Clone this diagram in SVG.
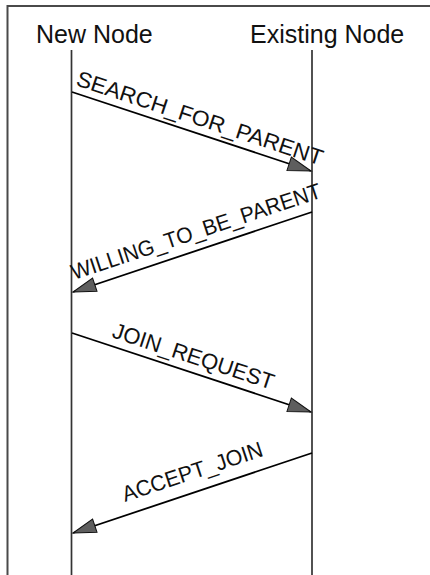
<svg xmlns="http://www.w3.org/2000/svg" width="430" height="575" viewBox="0 0 430 575">
  <style>
    .frame { fill: none; stroke: #4a4a4a; stroke-width: 2; }
    .life { stroke: #333; stroke-width: 1.7; }
    .msg { stroke: #000; stroke-width: 1.8; fill: none; }
    .title { font-family: "Liberation Sans", Arial, sans-serif; font-size: 25px; fill: #111; }
    .label { font-family: "Liberation Sans", Arial, sans-serif; font-size: 22px; fill: #111; }
  </style>
  <defs>
    <marker id="head" markerUnits="userSpaceOnUse" markerWidth="30" markerHeight="20" viewBox="-24 -10 26 20" refX="0" refY="0" orient="auto">
      <path d="M0,0 L-23,-7 L-23,7 Z" fill="#5e5e5e" stroke="#111" stroke-width="1"/>
    </marker>
  </defs>
  <rect width="430" height="575" fill="#fff"/>
  <!-- outer frame: top and left edges -->
  <path class="frame" d="M7.5,575 V6 H430"/>

  <g id="new-node">
    <text class="title" x="36" y="43">New Node</text>
    <line class="life" x1="71.5" y1="50" x2="71.5" y2="575"/>
  </g>
  <g id="existing-node">
    <text class="title" x="250" y="43">Existing Node</text>
    <line class="life" x1="312" y1="50" x2="312" y2="575"/>
  </g>

  <g id="connectors">
    <line class="msg" x1="72" y1="92" x2="311" y2="171" marker-end="url(#head)"/>
    <line class="msg" x1="312" y1="212" x2="73" y2="292" marker-end="url(#head)"/>
    <line class="msg" x1="72" y1="333" x2="311" y2="412" marker-end="url(#head)"/>
    <line class="msg" x1="312" y1="453" x2="73" y2="533" marker-end="url(#head)"/>
  </g>

  <g id="labels">
    <text class="label" transform="translate(75,85) rotate(18.2)" textLength="258" lengthAdjust="spacingAndGlyphs">SEARCH_FOR_PARENT</text>
    <text class="label" transform="translate(74,280) rotate(-18.4)" textLength="262" lengthAdjust="spacingAndGlyphs">WILLING_TO_BE_PARENT</text>
    <text class="label" transform="translate(111,337) rotate(18.2)">JOIN_REQUEST</text>
    <text class="label" transform="translate(125,502) rotate(-18.4)" textLength="147" lengthAdjust="spacingAndGlyphs">ACCEPT_JOIN</text>
  </g>
</svg>
